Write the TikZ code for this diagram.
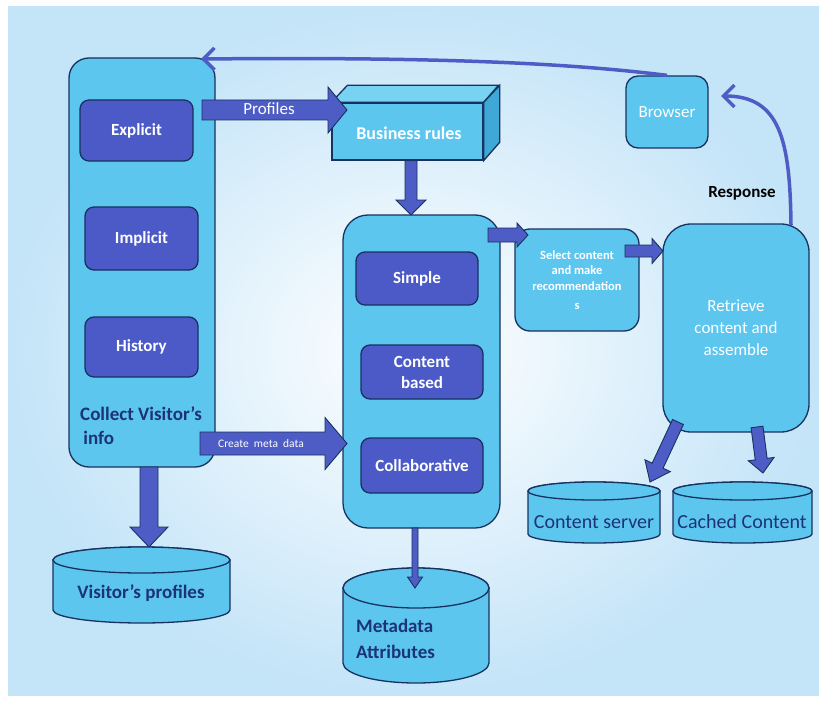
\documentclass[tikz,border=0pt]{standalone}
\usepackage{fontspec}
\setmainfont{Carlito}
\usetikzlibrary{calc,arrows.meta}
\definecolor{boxfill}{RGB}{92,198,239}
\definecolor{boxtop}{RGB}{120,210,242}
\definecolor{boxside}{RGB}{62,168,214}
\definecolor{darkfill}{RGB}{75,90,199}
\definecolor{edgec}{RGB}{24,50,95}
\definecolor{navy}{RGB}{28,52,118}
\definecolor{arrowc}{RGB}{78,92,198}
\definecolor{bgouter}{RGB}{196,228,248}
\newcommand\fsz[1]{\fontsize{#1}{#1}\selectfont}
\newcommand\blockarrow[5]{%
  \coordinate (hb) at ($(#2)!#5!(#1)$);
  \draw[blockarr] ($(#1)!#3!90:(#2)$) -- ($(hb)!#3!90:(#2)$) -- ($(hb)!#4!90:(#2)$) -- (#2)
    -- ($(hb)!#4!-90:(#2)$) -- ($(hb)!#3!-90:(#2)$) -- ($(#1)!#3!-90:(#2)$) -- cycle;}
\newcommand\cylshape[5]{%
  \pgfmathsetmacro\cylrx{(#2-#1)/2}%
  \draw[cylstyle] (#1,#3) -- (#1,#4) arc[start angle=180,end angle=360,x radius=\cylrx pt,y radius=#5pt]
    -- (#2,#3) arc[start angle=0,end angle=180,x radius=\cylrx pt,y radius=#5pt] -- cycle;
  \draw[cylstyle] ({(#1+#2)/2},#3) ellipse[x radius=\cylrx pt,y radius=#5pt];}
\begin{document}
\begin{tikzpicture}[x=1pt,y=-1pt,
  lightbox/.style={draw=edgec, line width=1.3pt, fill=boxfill, rounded corners=#1, inner sep=0pt},
  lightbox/.default=15pt,
  darkbox/.style={draw=edgec, line width=1.3pt, fill=darkfill, rounded corners=9pt, inner sep=0pt,
    text=white, font=\bfseries\fsz{17}, align=center},
  cylstyle/.style={draw=edgec, line width=1.3pt, fill=boxfill},
  cyltext/.style={text=navy, font=\fsz{20}, inner sep=0pt},
  blockarr/.style={fill=arrowc, draw=edgec, line width=0.9pt, line join=miter},
  curvearr/.style={draw=arrowc, line width=3.5pt, -{Straight Barb[length=11pt,width=22pt]}},
  whitetext/.style={text=white, inner sep=0pt, align=center}]
\useasboundingbox (0,0) rectangle (819,706);
\fill[white] (0,0) rectangle (819,706);
\fill[inner color=white, outer color=bgouter] (8,7) rectangle (819,695);

% left column
\node[lightbox=20pt, minimum width=146pt, minimum height=409pt] (collect) at (142,262.5) {};
\node[darkbox, minimum width=113pt, minimum height=61pt] (explicit) at (136.5,130.5) {Explicit};
\node[darkbox, minimum width=113pt, minimum height=63pt] (implicit) at (141.5,238.5) {Implicit};
\node[darkbox, minimum width=113pt, minimum height=60pt] (history) at (141.5,347) {History};
\node[anchor=north west, text=navy, font=\bfseries\fsz{19}, align=left, inner sep=0pt] (collecttxt) at (80,406)
  {Collect Visitor's\\[5pt]\,info};

% business rules cuboid
\node[draw=edgec, line width=1.3pt, fill=boxfill, minimum width=151pt, minimum height=57pt, inner sep=0pt] (business) at (407.5,131.5) {};
\draw[draw=edgec, line width=1.3pt, fill=boxtop] (business.north west) -- ++(16,-17) -- ++(151,0) -- (business.north east) -- cycle;
\draw[draw=edgec, line width=1.3pt, fill=boxside] (business.north east) -- ++(16,-17) -- ++(0,57) -- (business.south east) -- cycle;
\node[whitetext, font=\bfseries\fsz{18}] at (409,133) {Business rules};

% algorithms
\node[lightbox=25pt, minimum width=157pt, minimum height=313pt] (algo) at (421.5,371.5) {};
\node[darkbox, minimum width=122pt, minimum height=53pt] (simple) at (417,278.5) {Simple};
\node[darkbox, minimum width=122pt, minimum height=54pt] (contentb) at (422,372) {Content\\[4pt]based};
\node[darkbox, minimum width=122pt, minimum height=55pt] (collab) at (422,465.5) {Collaborative};

% select / retrieve / browser
\node[lightbox=15pt, minimum width=124pt, minimum height=102pt, whitetext, font=\bfseries\fsz{12.5}] (select) at (577,280)
  {Select content\\[3pt]and make\\[3pt]recommendation\\[7pt]s};
\node[lightbox=28pt, minimum width=146pt, minimum height=208pt, whitetext, font=\fsz{17}] (retrieve) at (736,328)
  {Retrieve\\[5pt]content and\\[5pt]assemble};
\node[lightbox=12pt, minimum width=82pt, minimum height=72pt, whitetext, font=\fsz{17}] (browser) at (667,112) {Browser};
\node[font=\bfseries\fsz{17}, text=black, inner sep=0pt] (response) at (742,193) {Response};

% cylinders
\cylshape{53}{230}{560}{610}{13}
\node[cyltext, font=\bfseries\fsz{19}] (vprof) at (141,593) {Visitor's profiles};
\cylshape{343}{489}{588}{663}{20}
\node[anchor=north west, text=navy, font=\bfseries\fsz{19}, align=left, inner sep=0pt] (meta) at (356,619)
  {Metadata\\[7pt]Attributes};
\cylshape{528}{660}{491}{534}{9}
\node[cyltext] (cserver) at (594,522) {Content server};
\cylshape{673}{812}{491}{534}{9}
\node[cyltext] (cached) at (742,522) {Cached Content};

% block arrows
\coordinate (pfA) at (202,110);  \coordinate (pfB) at (347,110);
\blockarrow{pfA}{pfB}{10pt}{23pt}{19pt}
\node[whitetext, font=\fsz{17}] at (269,109) {Profiles};
\coordinate (cmA) at (200,443.5); \coordinate (cmB) at (347,443.5);
\blockarrow{cmA}{cmB}{11.5pt}{26pt}{22pt}
\node[whitetext, font=\fsz{11.5}] at (261,444) {Create\ \ meta\ \ data};
\coordinate (bdA) at (business.south -| 411,0); \coordinate (bdB) at (411,215);
\blockarrow{bdA}{bdB}{6pt}{15pt}{15pt}
\coordinate (cdA) at (149,467); \coordinate (cdB) at (149,547);
\blockarrow{cdA}{cdB}{9pt}{19pt}{20pt}
\coordinate (adA) at (415,528); \coordinate (adB) at (415,588);
\blockarrow{adA}{adB}{3pt}{7.5pt}{11pt}
\coordinate (asA) at (488,235); \coordinate (asB) at (528,235);
\blockarrow{asA}{asB}{7pt}{12pt}{11pt}
\coordinate (srA) at (625,251); \coordinate (srB) at (663,251);
\blockarrow{srA}{srB}{6pt}{12.5pt}{11pt}
\coordinate (rcA) at (678,422); \coordinate (rcB) at (650,482);
\blockarrow{rcA}{rcB}{6pt}{14pt}{18pt}
\coordinate (rkA) at (757,427); \coordinate (rkB) at (763,473);
\blockarrow{rkA}{rkB}{6pt}{13pt}{14pt}

% curved connectors
\coordinate (topTip) at (201,59);
\draw[curvearr] (browser.north) .. controls (560,62) and (420,57) .. (topTip);
\coordinate (respS) at (791,225);
\coordinate (respTip) at (721,96);
\draw[curvearr] (respS) .. controls (790,140) and (780,96) .. (respTip);
\end{tikzpicture}
\end{document}
